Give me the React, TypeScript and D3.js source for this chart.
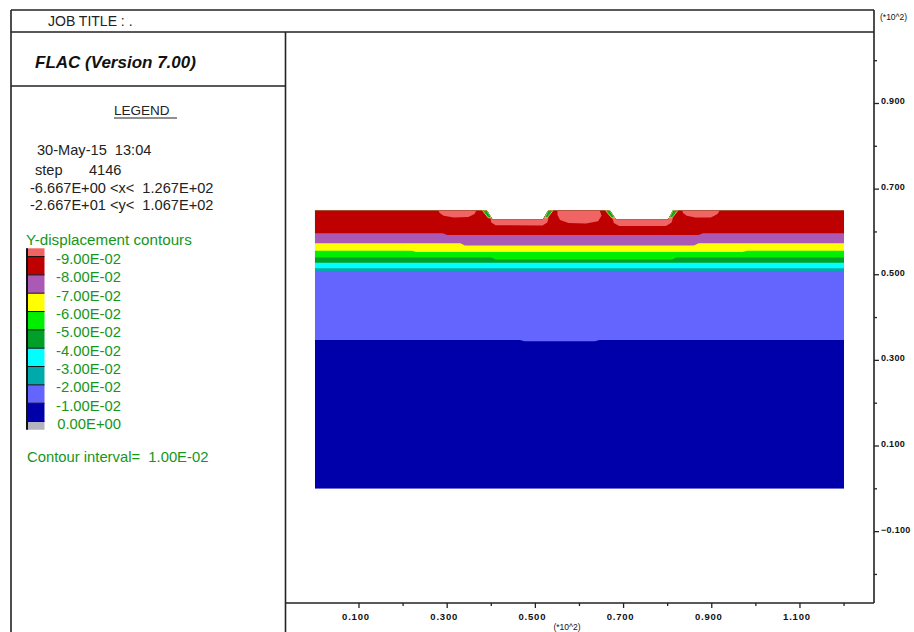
import React from "react";
import * as d3 from "d3";

const W = 914;
const H = 632;
const FONT = "'Liberation Sans', Arial, sans-serif";

// Y-displacement contour levels and their band fills (most negative first)
const LEVELS = [-0.09, -0.08, -0.07, -0.06, -0.05, -0.04, -0.03, -0.02, -0.01, 0.0];
const FILLS = [
  "#f06464", "#be0000", "#aa5ab4", "#ffff00", "#00ee00", "#00a028",
  "#00ffff", "#00aaaa", "#6464ff", "#0000aa", "#b4b4be",
];

// plot window extents (model units)
const X_WINDOW = [-6.667, 126.7];
const Y_WINDOW = [-26.67, 106.7];

// axis ticks (model units, labelled in *10^2)
const X_MAJOR = [10, 30, 50, 70, 90, 110];
const X_MINOR = [20, 40, 60, 80, 100, 120];
const Y_MAJOR = [-10, 10, 30, 50, 70, 90];
const Y_MINOR = [-20, 0, 20, 40, 60, 80, 100];

// grid extents and ground profile with the two excavations
const MODEL_LEFT = 0;
const MODEL_RIGHT = 120;
const MODEL_BASE = 0;
const SURFACE: [number, number][] = [
  [0, 65.0], [39.0, 65.0], [40.3, 62.9], [51.7, 62.9], [52.9, 65.0],
  [66.9, 65.0], [68.3, 62.9], [80.1, 62.9], [81.2, 65.0], [120, 65.0],
];

// contour lines (lower edge of each band)
const EDGE_M08: [number, number][] = [[0, 59.7], [29, 59.7], [30, 59.3], [87, 59.3], [88, 59.7], [120, 59.7]];
const EDGE_M07: [number, number][] = [[0, 57.35], [33, 57.35], [34, 56.85], [86, 56.85], [87, 57.35], [120, 57.35]];
const EDGE_M06: [number, number][] = [[0, 55.6], [22, 55.6], [23, 55.3], [97, 55.3], [98, 55.6], [120, 55.6]];
const EDGE_M05: [number, number][] = [[0, 54.05], [40, 54.05], [41, 53.55], [81, 53.55], [82, 54.05], [120, 54.05]];
const EDGE_M04: [number, number][] = [[0, 52.8], [120, 52.8]];
const EDGE_M03: [number, number][] = [[0, 51.5], [120, 51.5]];
const EDGE_M02: [number, number][] = [[0, 50.7], [120, 50.7]];
const EDGE_M01: [number, number][] = [[0, 34.75], [46.5, 34.75], [47.5, 34.45], [63.5, 34.45], [64.5, 34.75], [120, 34.75]];

// zones beyond -9.00E-02
const ZONE_A: [number, number][] = [[28.0, 65.0], [36.6, 65.0], [36.2, 64.2], [34.8, 63.5], [31.5, 63.35], [29.2, 63.8], [28.3, 64.4]];
const ZONE_B: [number, number][] = [[39.8, 63.4], [53.0, 63.4], [52.7, 62.2], [51.6, 61.5], [41.0, 61.55], [40.0, 62.2]];
const ZONE_C: [number, number][] = [[55.0, 65.0], [64.6, 65.0], [65.0, 63.8], [64.2, 62.5], [61.5, 62.0], [57.5, 62.1], [55.6, 62.8], [55.0, 64.0]];
const ZONE_D: [number, number][] = [[67.4, 63.4], [81.2, 63.4], [80.9, 62.2], [79.6, 61.4], [69.0, 61.4], [67.8, 62.1]];
const ZONE_E: [number, number][] = [[83.3, 65.0], [91.8, 65.0], [91.3, 64.2], [89.8, 63.4], [86.3, 63.35], [84.3, 63.8], [83.5, 64.4]];

// small rebound pockets at the excavation crests
const CREST_1: [number, number][] = [[38.0, 65.0], [39.0, 65.0], [40.0, 63.3], [39.3, 63.3]];
const CREST_2: [number, number][] = [[52.9, 65.0], [54.0, 65.0], [52.7, 63.3], [52.1, 63.3]];
const CREST_3: [number, number][] = [[65.9, 65.0], [66.9, 65.0], [68.0, 63.3], [67.3, 63.3]];
const CREST_4: [number, number][] = [[81.2, 65.0], [82.3, 65.0], [81.0, 63.3], [80.4, 63.3]];

const EDGES = [EDGE_M08, EDGE_M07, EDGE_M06, EDGE_M05, EDGE_M04, EDGE_M03, EDGE_M02, EDGE_M01];
const ZONES = [ZONE_A, ZONE_B, ZONE_C, ZONE_D, ZONE_E];
const CRESTS = [CREST_1, CREST_2, CREST_3, CREST_4];

// frame geometry
const FR_L = 11;
const FR_T = 10;
const FR_R = 874;
const HEAD_Y = 32;
const PANEL_R = 285.5;
const TITLE_Y = 86;
const AXIS_Y = 603;

const x = d3.scaleLinear().domain(X_WINDOW).range([PANEL_R, 873.6]);
const y = d3.scaleLinear().domain(Y_WINDOW).range([AXIS_Y, HEAD_Y]);

const line = d3.line<[number, number]>().x((d) => x(d[0])).y((d) => y(d[1]));
const poly = (pts: [number, number][]) => line(pts) + "Z";
const surfTop = d3.max(SURFACE, (d) => d[1]) as number;
const band = d3
  .area<[number, number]>()
  .x((d) => x(d[0]))
  .y0((d) => y(d[1]))
  .y1(() => y(surfTop + 1));

const outline: [number, number][] = [
  ...SURFACE,
  [MODEL_RIGHT, MODEL_BASE],
  [MODEL_LEFT, MODEL_BASE],
];

const tickFmt = (v: number) => d3.format(".3f")(v / 100);
const levelFmt = (v: number) => {
  const s = v.toExponential(2).toUpperCase();
  const m = s.match(/^(-?)([\d.]+)E([+-])(\d+)$/)!;
  return `${m[1]}${m[2]}E${m[3]}${m[4].padStart(2, "0")}`;
};

const GREEN_TXT = "#16961a";
const INK = "#222";
const PRE = { whiteSpace: "pre" as const };

export default function App() {
  const swTop = 248.3;
  const swStep = 18.33;
  const swX = 27;
  const swW = 17.5;
  // swatch rows: half row, full rows, half row
  const rows = FILLS.map((c, i) => {
    const y0 = i === 0 ? swTop : swTop + swStep * 0.45 + (i - 1) * swStep;
    const y1 = i === 0 ? swTop + swStep * 0.45 : i === FILLS.length - 1 ? y0 + swStep * 0.45 : y0 + swStep;
    return { c, y0, y1 };
  });

  return (
    <svg
      width={W}
      height={H}
      style={{ position: "absolute", left: 0, top: 0, display: "block", background: "#fff" }}
      fontFamily={FONT}
    >
      <rect width={W} height={H} fill="#fff" />

      <defs>
        <clipPath id="grid-clip">
          <path d={poly(outline)} />
        </clipPath>
      </defs>

      {/* contour bands */}
      <g clipPath="url(#grid-clip)">
        <path d={poly(outline)} fill={FILLS[9]} />
        {EDGES.slice().reverse().map((e, i) => (
          <path key={i} d={band(e) as string} fill={FILLS[8 - i]} />
        ))}
        {ZONES.map((z, i) => (
          <path key={i} d={poly(z)} fill={FILLS[0]} />
        ))}
        {CRESTS.map((z, i) => (
          <path key={i} d={poly(z)} fill="#0aa82a" stroke="#e8e84a" strokeWidth={0.8} />
        ))}
      </g>

      {/* frame */}
      <g stroke={INK} strokeWidth={1.6} fill="none">
        <path d={`M${FR_L},${FR_T}H${FR_R}`} />
        <path d={`M${FR_L},${HEAD_Y}H${FR_R}`} />
        <path d={`M${FR_L},${FR_T}V${H}`} />
        <path d={`M${PANEL_R},${HEAD_Y}V${H}`} />
        <path d={`M${FR_L},${TITLE_Y}H${PANEL_R}`} />
        <path d={`M${FR_R},${FR_T}V${AXIS_Y}`} />
        <path d={`M${PANEL_R},${AXIS_Y}H${FR_R}`} />
      </g>

      {/* axis ticks */}
      <g stroke={INK} strokeWidth={1.3}>
        {X_MAJOR.map((v) => (
          <line key={"xM" + v} x1={x(v)} x2={x(v)} y1={AXIS_Y} y2={AXIS_Y + 5} />
        ))}
        {X_MINOR.map((v) => (
          <line key={"xm" + v} x1={x(v)} x2={x(v)} y1={AXIS_Y} y2={AXIS_Y + 3} />
        ))}
        {Y_MAJOR.map((v) => (
          <line key={"yM" + v} x1={FR_R} x2={FR_R + 5} y1={y(v)} y2={y(v)} />
        ))}
        {Y_MINOR.map((v) => (
          <line key={"ym" + v} x1={FR_R} x2={FR_R + 3} y1={y(v)} y2={y(v)} />
        ))}
      </g>
      <g fill="#111" fontWeight="bold">
        {X_MAJOR.map((v) => (
          <text key={"xl" + v} x={x(v) - 3} y={AXIS_Y + 17} textAnchor="middle" fontSize={9.5} letterSpacing={0.8}>
            {tickFmt(v)}
          </text>
        ))}
        {Y_MAJOR.map((v) => (
          <text key={"yl" + v} x={FR_R + 7} y={y(v) + 1} fontSize={9} letterSpacing={0.3}>
            {tickFmt(v)}
          </text>
        ))}
        <text x={FR_R + 6} y={20} fontSize={8.5} fontWeight="normal">(*10^2)</text>
        <text x={567} y={630} fontSize={8.5} fontWeight="normal" textAnchor="middle">(*10^2)</text>
      </g>

      {/* title block */}
      <text x={48} y={26} fontSize={14} fill={INK}>JOB TITLE : .</text>
      <text x={35} y={68} fontSize={17} fontWeight="bold" fontStyle="italic" fill="#111">
        FLAC (Version 7.00)
      </text>
      <text x={114} y={115} fontSize={13.5} fill={INK}>LEGEND</text>
      <line x1={114} x2={177} y1={118} y2={118} stroke={INK} strokeWidth={1.2} />

      <g fontSize={14.6} fill={INK}>
        <text x={37} y={155} style={PRE}>30-May-15  13:04</text>
        <text x={35} y={175}>step</text>
        <text x={89} y={175}>4146</text>
        <text x={30} y={193} style={PRE}>-6.667E+00 &lt;x&lt;  1.267E+02</text>
        <text x={30} y={210} style={PRE}>-2.667E+01 &lt;y&lt;  1.067E+02</text>
      </g>

      {/* contour legend */}
      <text x={26} y={245} fontSize={15.2} fill={GREEN_TXT}>Y-displacement contours</text>
      {rows.map((r, i) => (
        <rect key={i} x={swX} y={r.y0} width={swW} height={r.y1 - r.y0} fill={r.c} />
      ))}
      <g stroke="#111" strokeWidth={1}>
        {rows.slice(1).map((r, i) => (
          <line key={i} x1={swX} x2={swX + swW} y1={r.y0} y2={r.y0} />
        ))}
      </g>
      <line x1={swX} x2={swX} y1={rows[0].y0} y2={rows[rows.length - 1].y1} stroke="#111" strokeWidth={2} />
      <g fontSize={14.8} fill={GREEN_TXT}>
        {LEVELS.map((v, i) => (
          <text key={i} x={121} y={rows[i + 1].y0 + 7.5} textAnchor="end">
            {levelFmt(v)}
          </text>
        ))}
      </g>
      <text x={27} y={462} fontSize={14.8} fill={GREEN_TXT} style={PRE}>
        {"Contour interval=  " + levelFmt(0.01)}
      </text>
    </svg>
  );
}
